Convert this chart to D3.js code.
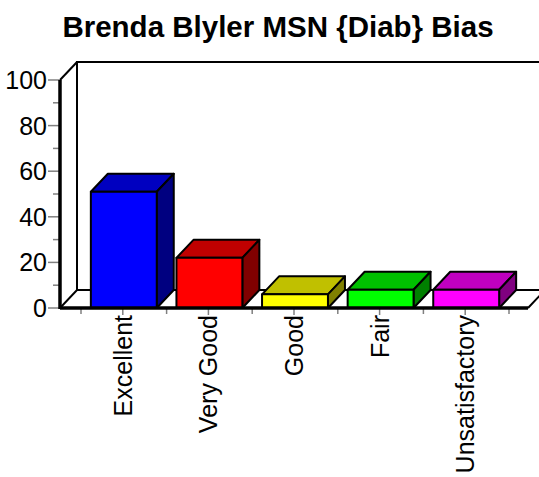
<!DOCTYPE html>
<html><head><meta charset="utf-8">
<script src="https://d3js.org/d3.v7.min.js"></script>
<style>body{margin:0;background:#fff}svg{display:block}text{font-family:Arial,"Liberation Sans",sans-serif}</style>
</head><body>
<script>
const title = "Brenda Blyler MSN {Diab} Bias";
const categories = ["Excellent","Very Good","Good","Fair","Unsatisfactory"];
const values = [51, 22, 6, 8, 8];
const frontColors = ["#0000FF","#FF0000","#FFFF00","#00FF00","#FF00FF"];
const topColors = ["#0000C0","#C00000","#C0C000","#00C000","#C000C0"];
const sideColors = ["#000080","#800000","#808000","#008000","#800080"];
const yTicks = [0,20,40,60,80,100];
const yMinor = [10,30,50,70,90];

const W = 539, H = 477;
const dx = 17, dy = -18;
const svg = d3.select("body").append("svg").attr("width", W).attr("height", H);

const y = d3.scaleLinear().domain([0,100]).range([308,80]);
const x = d3.scaleBand().domain(categories).range([81,509]).paddingInner(0.23).paddingOuter(0.115);
const x0 = 60, x1 = 528;

svg.append("text").attr("x", 278).attr("y", 37).attr("text-anchor","middle")
  .attr("font-size", 29.5).attr("font-weight","bold").text(title);

// back wall and floor
const g = svg.append("g");
g.append("path").attr("d", `M${x0+dx},${y(0)+dy} L${x0+dx},${y(100)+dy} L${x1+dx+40},${y(100)+dy}`)
  .attr("fill","none").attr("stroke","#000").attr("stroke-width",2);
g.append("path").attr("d", `M${x0},${y(100)} L${x0+dx},${y(100)+dy}`).attr("stroke","#000").attr("stroke-width",2);
g.append("path").attr("d", `M${x0},${y(0)} L${x0+dx},${y(0)+dy} L${x1+dx},${y(0)+dy} L${x1},${y(0)}`)
  .attr("fill","#fff").attr("stroke","#000").attr("stroke-width",2);

// bars
const bars = svg.append("g");
categories.forEach((c,i)=>{
  const bx = x(c), bw = x.bandwidth(), ty = y(values[i]), by = y(0);
  const bg = bars.append("g").attr("stroke","#000").attr("stroke-width",2).attr("stroke-linejoin","round");
  bg.append("path").attr("fill", topColors[i])
    .attr("d", `M${bx},${ty} L${bx+dx},${ty+dy} L${bx+bw+dx},${ty+dy} L${bx+bw},${ty} Z`);
  bg.append("path").attr("fill", sideColors[i])
    .attr("d", `M${bx+bw},${ty} L${bx+bw+dx},${ty+dy} L${bx+bw+dx},${by+dy} L${bx+bw},${by} Z`);
  bg.append("rect").attr("fill", frontColors[i]).attr("x", bx).attr("y", ty).attr("width", bw).attr("height", by-ty);
});

// y ticks
const ax = svg.append("g");
yMinor.forEach(v=>ax.append("line").attr("x1",53).attr("x2",x0).attr("y1",y(v)).attr("y2",y(v)).attr("stroke","#808080").attr("stroke-width",1.5));
yTicks.forEach(v=>{
  ax.append("line").attr("x1",48).attr("x2",x0).attr("y1",y(v)).attr("y2",y(v)).attr("stroke","#808080").attr("stroke-width",1.5);
  ax.append("text").attr("x",47).attr("y",y(v)).attr("dy","0.36em").attr("text-anchor","end").attr("font-size",25).text(v);
});
// x ticks
const step = x.step();
const bounds = d3.range(categories.length+1).map(i=>81 + i*step);
bounds.forEach(b=>ax.append("line").attr("x1",b).attr("x2",b).attr("y1",y(0)).attr("y2",y(0)+6).attr("stroke","#808080").attr("stroke-width",1.5));
categories.forEach(c=>{
  const cx = x(c)+x.bandwidth()/2 - 1;
  ax.append("line").attr("x1",cx).attr("x2",cx).attr("y1",y(0)).attr("y2",y(0)+7).attr("stroke","#808080").attr("stroke-width",1.5);
  ax.append("text").attr("transform",`translate(${cx},${y(0)+7}) rotate(-90)`).attr("dy","0.36em")
    .attr("text-anchor","end").attr("font-size",25).text(c);
});

// front axis lines
ax.append("line").attr("x1",x0).attr("x2",x0).attr("y1",y(100)).attr("y2",y(0)+1).attr("stroke","#000").attr("stroke-width",3.5);
ax.append("line").attr("x1",x0).attr("x2",x1).attr("y1",y(0)).attr("y2",y(0)).attr("stroke","#000").attr("stroke-width",3.5);
</script>
</body></html>
